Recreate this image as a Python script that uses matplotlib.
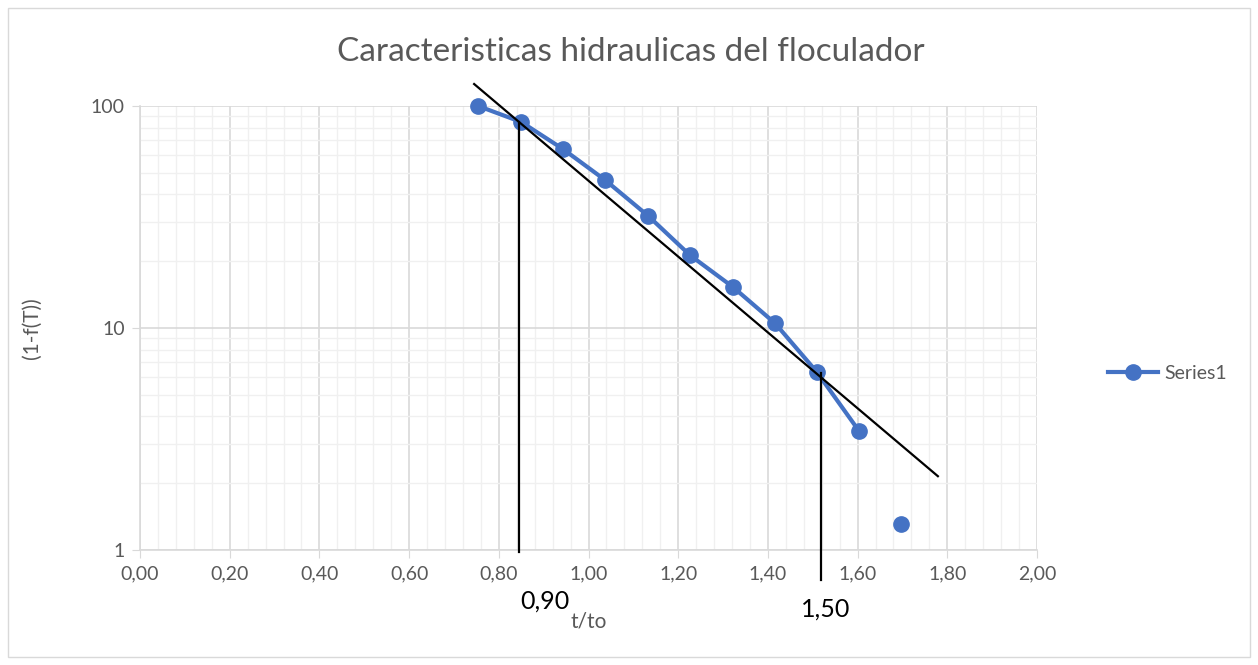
import matplotlib
matplotlib.use("Agg")
import matplotlib.pyplot as plt
from matplotlib.ticker import MultipleLocator, FixedLocator, FuncFormatter, NullFormatter
from matplotlib.patches import Rectangle
from matplotlib.lines import Line2D

plt.rcParams['font.family'] = ['Lato', 'DejaVu Sans']

# data
t_to = [0.754, 0.850, 0.943, 1.037, 1.133, 1.226, 1.322, 1.416, 1.509, 1.603]
one_minus_f = [100, 84.7, 64, 46.4, 32, 21.3, 15.3, 10.5, 6.34, 3.44]
t_last = [1.697]
y_last = [1.31]

fit_x = [0.745, 1.779]
fit_y = [125.6, 2.15]
v1_x, v1_y = 0.845, [84.7, 0.98]
v2_x, v2_y = 1.518, [6.3, 0.733]
ann_labels = ["0,90", "1,50"]

blue = "#4472C4"
gray = "#595959"

fig = plt.figure(figsize=(12.58, 6.65), dpi=100)
fig.patches.append(Rectangle((8/1258, 8/665), 1242/1258, 649/665, transform=fig.transFigure,
                             fill=False, edgecolor="#D9D9D9", linewidth=1))
ax = fig.add_axes([140/1258, 1-550/665, 897/1258, 444/665])
ax.set_yscale('log')
ax.set_xlim(0, 2.0)
ax.set_ylim(1, 100)

ax.xaxis.set_major_locator(MultipleLocator(0.2))
ax.xaxis.set_minor_locator(MultipleLocator(0.04))
ax.xaxis.set_major_formatter(FuncFormatter(lambda v, p: f"{v:.2f}".replace('.', ',')))
ax.yaxis.set_major_locator(FixedLocator([1, 10, 100]))
ax.yaxis.set_major_formatter(FuncFormatter(lambda v, p: f"{int(round(v))}"))
ax.yaxis.set_minor_formatter(NullFormatter())

ax.grid(which='major', color="#D9D9D9", linewidth=1.2)
ax.grid(which='minor', color="#F0F0F0", linewidth=1.0)
ax.set_axisbelow(True)
for s in ['top', 'right']:
    ax.spines[s].set_visible(False)
ax.spines['left'].set_color("#D9D9D9")
ax.spines['bottom'].set_color("#D9D9D9")
ax.spines['left'].set_linewidth(1.2)
ax.spines['bottom'].set_linewidth(1.2)
ax.tick_params(axis='x', which='major', length=6, color="#D9D9D9", labelsize=14, labelcolor=gray, pad=5)
ax.tick_params(axis='x', which='minor', length=0)
ax.tick_params(axis='y', which='major', length=6, color="#D9D9D9", labelsize=14, labelcolor=gray, pad=5)
ax.tick_params(axis='y', which='minor', length=0)

ax.plot(t_to, one_minus_f, color=blue, linewidth=3, marker='o', markersize=11, zorder=3, clip_on=False)
ax.plot(t_last, y_last, color=blue, linestyle='none', marker='o', markersize=11, zorder=3, clip_on=False)

ax.plot(fit_x, fit_y, color='black', linewidth=1.6, clip_on=False, zorder=4)
ax.plot([v1_x, v1_x], v1_y, color='black', linewidth=1.6, clip_on=False, zorder=4)
ax.plot([v2_x, v2_x], v2_y, color='black', linewidth=1.6, clip_on=False, zorder=4)

fig.text(545/1258, 1-601/665, ann_labels[0], fontsize=18, color='black', ha='center', va='center')
fig.text(826/1258, 1-609/665, ann_labels[1], fontsize=18, color='black', ha='center', va='center')

fig.text(631/1258, 1-52/665, "Caracteristicas hidraulicas del floculador", fontsize=24, color=gray,
         ha='center', va='center')
fig.text(589/1258, 1-622/665, "t/to", fontsize=15, color=gray, ha='center', va='center')
fig.text(32/1258, 1-328/665, "(1-f(T))", fontsize=15, color=gray, ha='center', va='center', rotation=90)

h = Line2D([], [], color=blue, linewidth=3, marker='o', markersize=11)
fig.legend([h], ["Series1"], loc='center left', bbox_to_anchor=(1090/1258, 1-373/665), frameon=False,
           fontsize=14, labelcolor=gray, handlelength=2.6, handletextpad=0.3)

fig.savefig("out.png", dpi=100)
